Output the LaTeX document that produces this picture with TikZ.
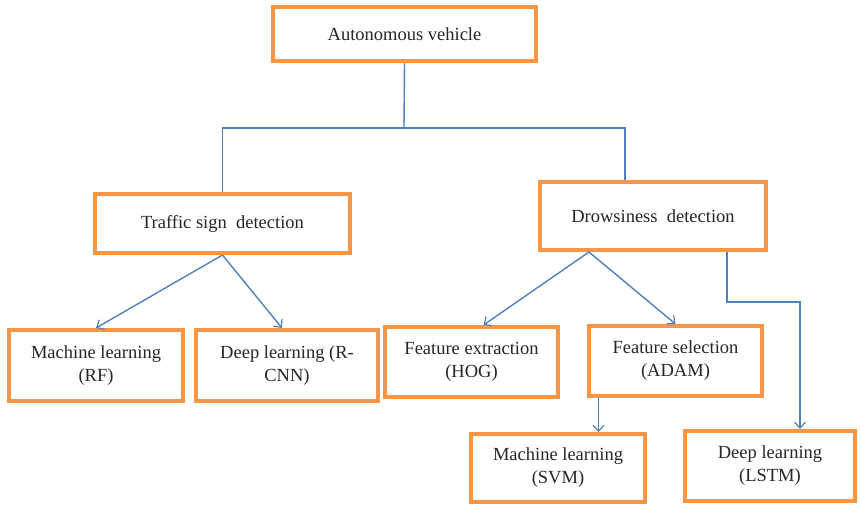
\documentclass[tikz,border=0pt]{standalone}
\usepackage{fontspec}
\setmainfont{Liberation Serif}
\newfontfamily\labelfont{Liberation Serif}
\usetikzlibrary{arrows.meta}
\definecolor{boxorange}{HTML}{F79646}
\definecolor{linkblue}{HTML}{4F81BD}
\begin{document}
\begin{tikzpicture}[x=1pt,y=-1pt,
  box/.style={draw=boxorange, line width=4pt, fill=white, align=center,
    inner sep=2pt, font=\labelfont\fontsize{18.5}{23}\selectfont, text=black!85},
  link/.style={draw=linkblue, line width=1.4pt},
  arr/.style={link, -{Straight Barb[length=6pt,width=11pt,line width=1.2pt]}}]
\useasboundingbox (0,0) rectangle (860,506);

% boxes
\node[box, minimum width=263pt, minimum height=54pt] (av)   at (404.5,34)  {Autonomous vehicle};
\node[box, minimum width=255pt, minimum height=59pt] (tsd)  at (222.5,223.5) {Traffic sign\ \ detection};
\node[box, minimum width=226pt, minimum height=68pt] (dd)   at (653,216)   {Drowsiness\ \ detection};
\node[box, minimum width=174pt, minimum height=71pt] (rf)   at (96,365.5)  {Machine learning\\(RF)};
\node[box, minimum width=182pt, minimum height=71pt] (rcnn) at (287,365.5) {Deep learning (R-\\CNN)};
\node[box, minimum width=173pt, minimum height=70pt] (hog)  at (471.5,362) {Feature extraction\\(HOG)};
\node[box, minimum width=173pt, minimum height=70pt] (adam) at (675.5,361) {Feature selection\\(ADAM)};
\node[box, minimum width=174pt, minimum height=68pt] (svm)  at (558,468)   {Machine learning\\(SVM)};
\node[box, minimum width=170pt, minimum height=70pt] (lstm) at (770,466)   {Deep learning\\(LSTM)};

% tree from the root
\coordinate (split) at (404,128);
\draw[link] (av.south) -- (split);
\draw[link] (split) -| (tsd.north);
\draw[link] (split) -| ([xshift=-28pt]dd.north);

% traffic sign branch
\draw[arr] (tsd.south) -- (rf.north);
\draw[arr] (tsd.south) -- ([xshift=-5pt]rcnn.north);

% drowsiness branch
\draw[arr] ([xshift=-64pt]dd.south) -- ([xshift=12pt]hog.north);
\draw[arr] ([xshift=-64pt]dd.south) -- (adam.north);
\draw[arr] ([xshift=74pt]dd.south) |- ++(0,50) -| ([xshift=30pt]lstm.north);
\draw[arr] ([xshift=-77pt]adam.south) -- ([xshift=-77pt]adam.south |- svm.north);
\end{tikzpicture}
\end{document}
